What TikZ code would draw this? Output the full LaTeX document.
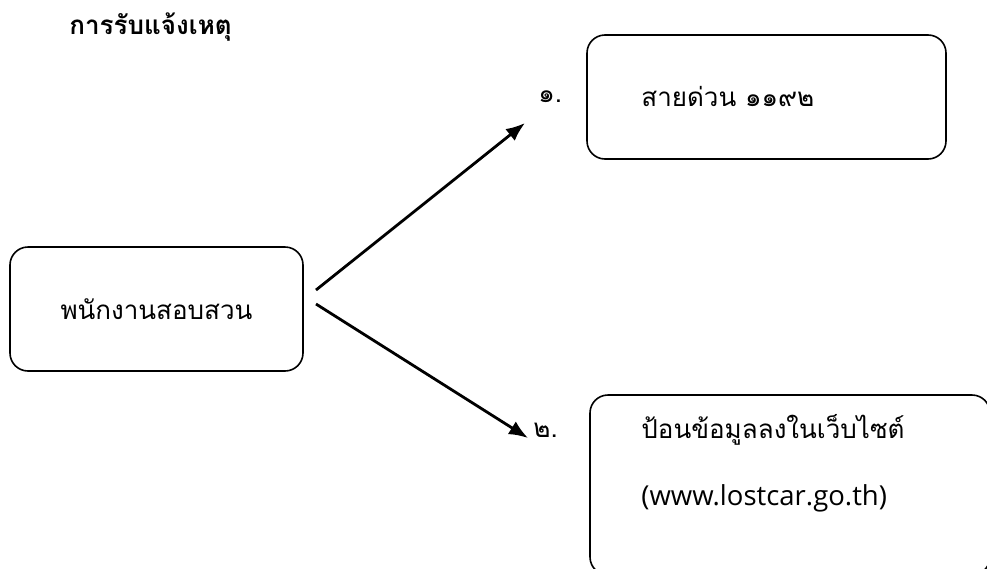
\documentclass[tikz,border=0pt]{standalone}
\usepackage{fontspec}
\usepackage{tikz}
\usetikzlibrary{arrows.meta}
\setmainfont[Script=Thai]{Loma}
\newfontfamily\latinfont{Open Sans}

\begin{document}
\begin{tikzpicture}[x=1pt,y=-1pt,->,>={Latex[length=19pt,width=15pt]},
              line width=2.8pt,main node/.style={rectangle,draw,rounded corners=18pt,line width=1.6pt,inner sep=0pt},
              label node/.style={inner sep=0pt,anchor=west,font=\fontsize{26}{30}\selectfont}]

            \useasboundingbox (0,0) rectangle (987,568);
            \clip (0,0) rectangle (987,568);

            \node[inner sep=0pt,anchor=west,font=\bfseries\fontsize{26}{30}\selectfont] (T) at (68,27) {การรับแจ้งเหตุ};

            \node[main node,minimum width=293pt,minimum height=124pt,font=\fontsize{26}{30}\selectfont] (P) at (156.5,309) {พนักงานสอบสวน};
            \node[main node,minimum width=359pt,minimum height=124pt] (B1) at (766.5,97) {};
            \node[main node,minimum width=400pt,minimum height=180pt] (B2) at (790,485) {};

            \node[label node] (N1) at (537,97) {๑.};
            \node[label node] (N2) at (532,430) {๒.};
            \node[label node] (H) at (640,97) {สายด่วน ๑๑๙๒};
            \node[label node] (W1) at (640,430) {ป้อนข้อมูลลงในเว็บไซต์};
            \node[label node,font=\latinfont\fontsize{27.5}{32}\selectfont] (W2) at (640,498) {(www.lostcar.go.th)};

            \coordinate (s1) at (316,290);
            \coordinate (s2) at (316,304);
            \coordinate (e1) at (525,123);
            \coordinate (e2) at (528,438);

            \path
            (s1) edge (e1)
            (s2) edge (e2);

          \end{tikzpicture}
\end{document}
